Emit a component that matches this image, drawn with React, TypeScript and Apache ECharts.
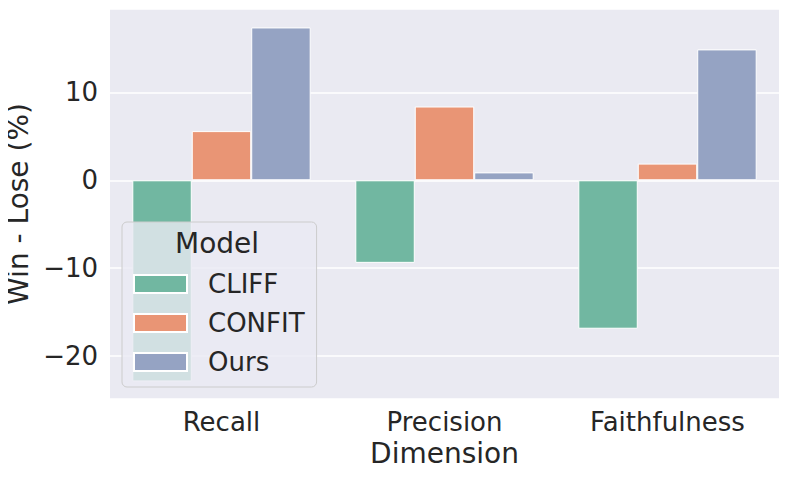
import React, { useEffect, useRef } from "react";
import * as echarts from "echarts";

const categories = ["Recall", "Precision", "Faithfulness"];
const seriesNames = ["CLIFF", "CONFIT", "Ours"];
const cliffValues = [-22.9, -9.4, -16.9];
const confitValues = [5.6, 8.4, 1.9];
const oursValues = [17.4, 0.9, 14.9];
const seriesColors = ["#71b7a1", "#e99575", "#95a3c3"];
const legendTitle = "Model";
const xAxisTitle = "Dimension";
const yAxisTitle = "Win - Lose (%)";

const FONT = "DejaVu Sans";
const TEXT = "#262626";

export default function App() {
  const ref = useRef<HTMLDivElement>(null);
  useEffect(() => {
    if (!ref.current) return;
    const chart = echarts.init(ref.current, undefined, { renderer: "svg" });
    const values = [cliffValues, confitValues, oursValues];
    chart.setOption({
      animation: false,
      textStyle: { fontFamily: FONT },
      grid: {
        left: 110,
        right: 9,
        top: 9,
        bottom: 80,
        show: true,
        backgroundColor: "#eaeaf2",
        borderWidth: 0,
        containLabel: false,
        outerBoundsMode: "none",
      },
      xAxis: {
        type: "category",
        data: categories,
        name: xAxisTitle,
        nameLocation: "middle",
        nameGap: 40,
        nameTextStyle: { fontSize: 28, color: TEXT, fontFamily: FONT },
        axisLine: { show: false },
        axisTick: { show: false },
        axisLabel: { fontSize: 26, color: TEXT, margin: 10, fontFamily: FONT },
        splitLine: { show: false },
      },
      yAxis: {
        type: "value",
        min: -24.9,
        max: 19.5,
        name: yAxisTitle,
        nameLocation: "middle",
        nameGap: 74,
        nameTextStyle: { fontSize: 28, color: TEXT, fontFamily: FONT },
        axisLine: { show: false },
        axisTick: { show: false },
        axisLabel: {
          fontSize: 26,
          color: TEXT,
          margin: 12,
          fontFamily: FONT,
          showMinLabel: false,
          showMaxLabel: false,
          formatter: (v: number) => String(v).replace("-", "\u2212"),
        },
        splitLine: { show: true, lineStyle: { color: "#ffffff", width: 1.5 } },
      },
      legend: {
        orient: "vertical",
        left: 122,
        top: 222,
        padding: [49, 12, 12, 11],
        itemWidth: 53,
        itemHeight: 18,
        itemGap: 13,
        icon: "rect",
        backgroundColor: "rgba(234,234,242,0.8)",
        borderColor: "#cccccc",
        borderWidth: 1,
        borderRadius: 5,
        textStyle: {
          fontSize: 26,
          color: TEXT,
          fontFamily: FONT,
          padding: [0, 0, 0, 16],
        },
        data: seriesNames,
      },
      graphic: [
        {
          type: "text",
          z: 100,
          left: 218 - 43,
          top: 229,
          style: { text: legendTitle, fontSize: 28, fill: TEXT, fontFamily: FONT },
        },
      ],
      series: seriesNames.map((name, i) => ({
        name,
        type: "bar",
        data: values[i],
        barGap: "0%",
        barCategoryGap: "20%",
        itemStyle: { color: seriesColors[i], borderColor: "#ffffff", borderWidth: 1 },
      })),
    });
    return () => chart.dispose();
  }, []);
  return <div ref={ref} style={{ width: 788, height: 479, margin: -8 }} />;
}
